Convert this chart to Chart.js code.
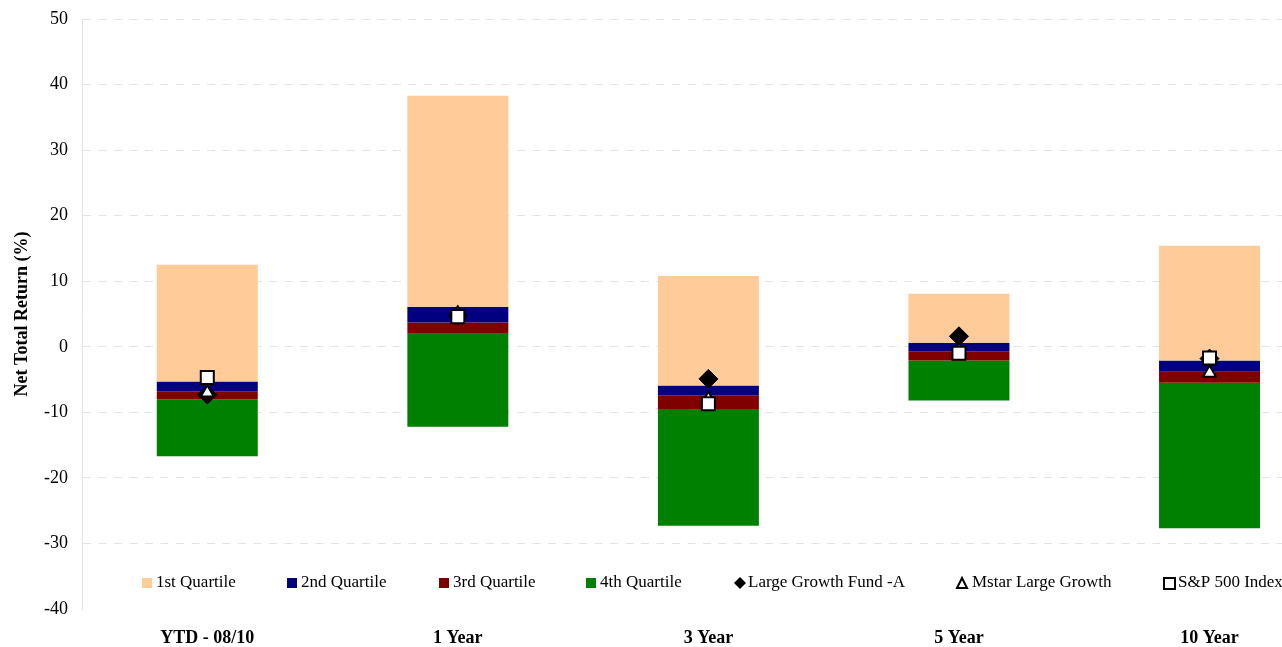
<!DOCTYPE html>
<html>
<head>
<meta charset="utf-8">
<script src="https://cdn.jsdelivr.net/npm/chart.js@4"></script>
<style>
  html, body { margin: 0; padding: 0; background: #fff; overflow: hidden; }
  #wrap { width: 1282px; height: 647px; overflow: hidden; }
</style>
</head>
<body>
<div id="wrap"><canvas id="myChart" width="1346" height="647"></canvas></div>
<script>
"use strict";

const categories = ['YTD - 08/10', '1 Year', '3 Year', '5 Year', '10 Year'];
// quartile boundaries, top to bottom
const q1Top = [12.5, 38.3, 10.8, 8.1, 15.4];
const q2Top = [-5.3, 6.1, -5.9, 0.6, -2.1];
const q3Top = [-6.8, 3.7, -7.4, -0.7, -3.8];
const q4Top = [-8.0, 2.0, -9.5, -2.1, -5.5];
const q4Bottom = [-16.7, -12.2, -27.3, -8.2, -27.7];
// markers
const fundA = [-7.3, 4.8, -4.9, 1.6, -1.8];
const mstar = [-7.0, 5.0, -8.0, -0.6, -4.0];
const sp500 = [-4.7, 4.6, -8.7, -1.0, -1.7];
const yTicks = [50, 40, 30, 20, 10, 0, -10, -20, -30, -40];

const serif = '"Liberation Serif", "DejaVu Serif", serif';

const span = (lo, hi) => categories.map((_, i) => [lo[i], hi[i]]);

const barBase = {
    type: 'bar',
    grouped: false,
    barPercentage: 0.403,
    categoryPercentage: 1,
    borderWidth: 0,
    order: 5
};

const markerBase = {
    type: 'line',
    showLine: false,
    borderColor: '#000',
    borderWidth: 2,
    pointBorderWidth: 2,
    pointHoverRadius: 0
};

// legend sits inside the plot area, between -30 and -40
const legendPlugin = {
    id: 'insideLegend',
    afterDatasetsDraw(chart) {
        const ctx = chart.ctx;
        const y = 583;
        const items = [
            { x: 142, kind: 'box', color: '#FFCC99', text: '1st Quartile' },
            { x: 287, kind: 'box', color: '#000080', text: '2nd Quartile' },
            { x: 439, kind: 'box', color: '#800000', text: '3rd Quartile' },
            { x: 586, kind: 'box', color: '#008000', text: '4th Quartile' },
            { x: 734, kind: 'diamond', text: 'Large Growth Fund -A' },
            { x: 956, kind: 'triangle', text: 'Mstar Large Growth' },
            { x: 1163, kind: 'square', text: 'S&P 500 Index' }
        ];
        ctx.save();
        ctx.font = `17px ${serif}`;
        ctx.textBaseline = 'middle';
        items.forEach(it => {
            ctx.strokeStyle = '#000';
            ctx.lineWidth = 2;
            if (it.kind === 'box') {
                ctx.fillStyle = it.color;
                ctx.fillRect(it.x, y - 5, 10, 10);
                ctx.fillStyle = '#000';
                ctx.fillText(it.text, it.x + 14, y);
            } else if (it.kind === 'diamond') {
                ctx.fillStyle = '#000';
                ctx.beginPath();
                ctx.moveTo(it.x + 6, y - 6);
                ctx.lineTo(it.x + 12, y);
                ctx.lineTo(it.x + 6, y + 6);
                ctx.lineTo(it.x, y);
                ctx.closePath();
                ctx.fill();
                ctx.fillText(it.text, it.x + 14, y);
            } else if (it.kind === 'triangle') {
                ctx.fillStyle = '#fff';
                ctx.beginPath();
                ctx.moveTo(it.x + 6, y - 5);
                ctx.lineTo(it.x + 11, y + 5);
                ctx.lineTo(it.x + 1, y + 5);
                ctx.closePath();
                ctx.fill();
                ctx.stroke();
                ctx.fillStyle = '#000';
                ctx.fillText(it.text, it.x + 16, y);
            } else {
                ctx.fillStyle = '#fff';
                ctx.fillRect(it.x + 1, y - 5, 11, 11);
                ctx.strokeRect(it.x + 1, y - 5, 11, 11);
                ctx.fillStyle = '#000';
                ctx.fillText(it.text, it.x + 15, y);
            }
        });
        ctx.restore();
    }
};

const ctx = document.getElementById('myChart');

new Chart(ctx, {
    data: {
        labels: categories,
        datasets: [
            { ...barBase, label: '1st Quartile', data: span(q2Top, q1Top), backgroundColor: '#FFCC99' },
            { ...barBase, label: '2nd Quartile', data: span(q3Top, q2Top), backgroundColor: '#000080' },
            { ...barBase, label: '3rd Quartile', data: span(q4Top, q3Top), backgroundColor: '#800000' },
            { ...barBase, label: '4th Quartile', data: span(q4Bottom, q4Top), backgroundColor: '#008000' },
            {
                ...markerBase, label: 'Large Growth Fund -A', data: fundA,
                pointStyle: 'rectRot', pointRadius: 9.5, pointBorderWidth: 1,
                pointBackgroundColor: '#000', order: 2
            },
            {
                ...markerBase, label: 'Mstar Large Growth', data: mstar,
                pointStyle: 'triangle', pointRadius: 7.5,
                pointBackgroundColor: '#fff', order: 1
            },
            {
                ...markerBase, label: 'S&P 500 Index', data: sp500,
                pointStyle: 'rect', pointRadius: 9.2,
                pointBackgroundColor: '#fff', order: 0
            }
        ]
    },
    options: {
        responsive: false,
        animation: false,
        events: [],
        layout: {
            padding: { top: 19, right: 0, bottom: 0, left: 0 }
        },
        plugins: {
            legend: { display: false },
            tooltip: { enabled: false }
        },
        scales: {
            x: {
                type: 'category',
                offset: true,
                grid: { display: false },
                border: { display: false },
                ticks: {
                    color: '#000',
                    padding: 11,
                    maxRotation: 0,
                    autoSkip: false,
                    font: { family: serif, size: 18, weight: 'bold' }
                },
                afterFit(scale) {
                    scale.height = 38;
                    scale.paddingLeft = 0;
                    scale.paddingRight = 0;
                }
            },
            y: {
                min: -40,
                max: 50,
                afterBuildTicks(scale) {
                    scale.ticks = yTicks.map(v => ({ value: v }));
                },
                grid: {
                    drawTicks: false,
                    color: c => (c.tick && c.tick.value === -40 ? 'rgba(0,0,0,0)' : '#e3e3e3'),
                    lineWidth: 1
                },
                border: { display: true, color: '#e3e3e3', dash: [8, 7.5] },
                ticks: {
                    color: '#000',
                    padding: 14,
                    font: { family: serif, size: 18 }
                },
                title: {
                    display: true,
                    text: 'Net Total Return (%)',
                    color: '#000',
                    padding: { top: 12, bottom: 0 },
                    font: { family: serif, size: 18, weight: 'bold' }
                },
                afterFit(scale) {
                    scale.width = 82;
                    scale.paddingTop = 0;
                    scale.paddingBottom = 0;
                }
            }
        }
    },
    plugins: [legendPlugin]
});
</script>
</body>
</html>
